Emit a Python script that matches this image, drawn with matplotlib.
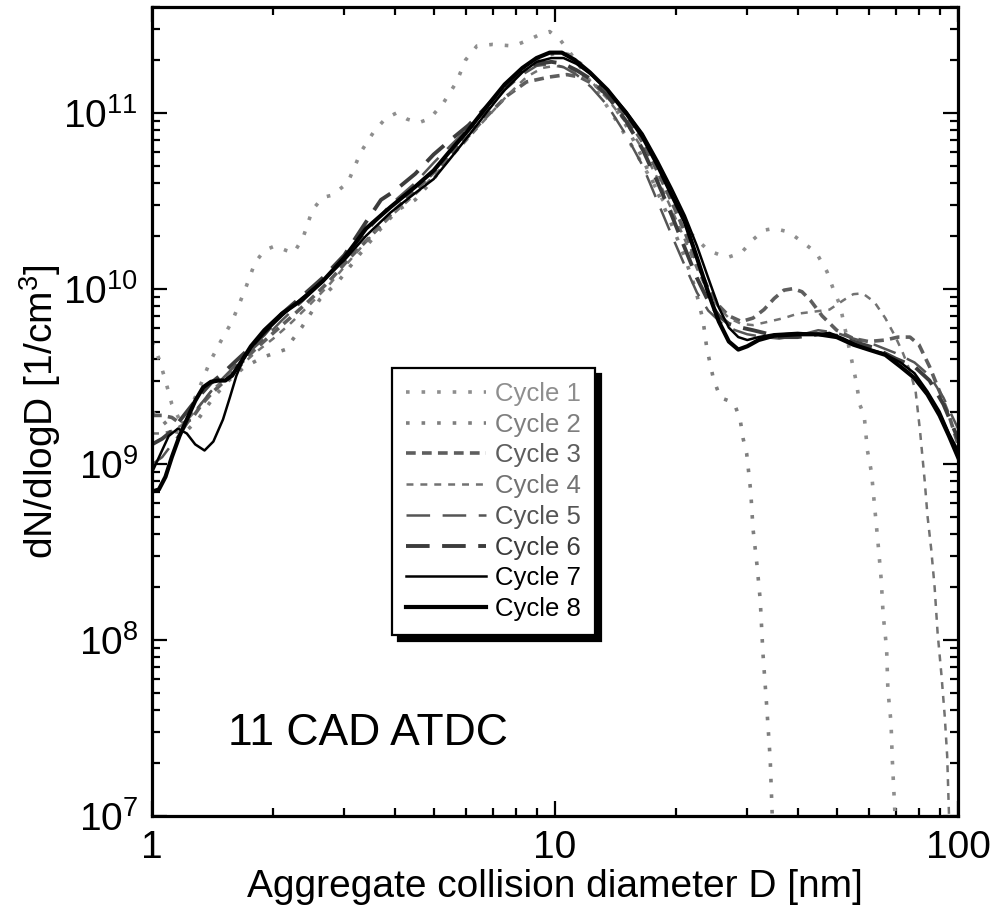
import matplotlib
matplotlib.use("Agg")
import matplotlib.pyplot as plt
import numpy as np

plt.rcParams['font.family'] = ['Liberation Sans', 'DejaVu Sans']
plt.rcParams['mathtext.fontset'] = 'custom'
plt.rcParams['mathtext.rm'] = 'Liberation Sans'
plt.rcParams['mathtext.it'] = 'Liberation Sans:italic'
plt.rcParams['mathtext.bf'] = 'Liberation Sans:bold'
plt.rcParams['lines.scale_dashes'] = False

# ---------------- data ----------------
labels = ["Cycle 1", "Cycle 2", "Cycle 3", "Cycle 4",
          "Cycle 5", "Cycle 6", "Cycle 7", "Cycle 8"]

d1 = [1.0, 1.04, 1.08, 1.12, 1.17, 1.22, 1.3, 1.39, 1.48, 1.58, 1.7, 1.8, 1.9, 2.02, 2.15,
      2.25, 2.37, 2.5, 2.65, 2.8, 3.06, 3.3, 3.55, 3.8, 4.05, 4.3, 4.6, 4.9, 5.3, 5.7, 6.0,
      6.4, 7.0, 7.9, 8.6, 9.2, 9.7, 10.3, 10.9, 11.8, 12.8, 14, 15.5, 17, 18.5, 20, 22, 24,
      26.7, 29, 31, 33, 35, 38, 41, 44.5, 47.3, 49, 51, 54.5, 56, 57, 58.5, 59.6, 61, 62,
      63.3, 64.5, 65.2, 66.5, 67, 68.2, 68.7, 69.8]
v1 = [5.0e9, 4.0e9, 3.0e9, 2.2e9, 1.8e9, 1.9e9, 2.6e9, 3.8e9, 5.0e9, 6.5e9, 9.8e9, 1.4e10,
      1.65e10, 1.75e10, 1.65e10, 1.6e10, 1.95e10, 2.8e10, 3.3e10, 3.4e10, 4.0e10, 6.0e10,
      7.8e10, 9.3e10, 1.0e11, 9.2e10, 8.8e10, 9.3e10, 1.15e11, 1.5e11, 2.0e11, 2.4e11,
      2.45e11, 2.4e11, 2.6e11, 2.8e11, 2.9e11, 2.6e11, 2.2e11, 1.7e11, 1.3e11, 9.5e10,
      6.5e10, 4.5e10, 3.2e10, 2.5e10, 2.0e10, 1.65e10, 1.5e10, 1.6e10, 1.9e10, 2.15e10,
      2.2e10, 2.1e10, 1.85e10, 1.6e10, 1.25e10, 1.0e10, 8.0e9, 3.9e9, 2.9e9, 2.2e9, 1.9e9,
      1.2e9, 9e8, 6e8, 3.6e8, 2.2e8, 1.4e8, 9e7, 5.2e7, 3.4e7, 2.1e7, 1e7]

d2 = [1.0, 1.06, 1.12, 1.2, 1.3, 1.42, 1.55, 1.7, 1.9, 2.14, 2.35, 2.61, 2.9, 3.3, 3.7, 4.07,
      4.5, 5.0, 5.6, 6.3, 7.0, 7.8, 8.6, 9.4, 10.2, 10.8, 11.6, 12.5, 13.5, 15, 16.5, 18, 19.5,
      21, 22.3, 23.3, 23.8, 24.7, 25.7, 27, 27.9, 28.8, 29.3, 29.9, 30.6, 31, 31.7, 32.3, 32.8,
      33.5, 34.2, 34.6]
v2 = [2.0e9, 1.8e9, 1.55e9, 1.5e9, 1.8e9, 2.4e9, 3.0e9, 3.6e9, 4.1e9, 4.5e9, 6.0e9, 8.7e9,
      1.1e10, 1.6e10, 2.2e10, 2.8e10, 3.2e10, 4.2e10, 6.0e10, 8.5e10, 1.15e11, 1.5e11,
      1.85e11, 2.1e11, 2.2e11, 2.15e11, 1.9e11, 1.6e11, 1.25e11, 8.5e10, 5.5e10, 3.5e10,
      2.3e10, 1.5e10, 1.0e10, 6.6e9, 4.6e9, 3.1e9, 2.4e9, 2.3e9, 2.2e9, 1.8e9, 1.4e9, 1.15e9,
      7e8, 4.3e8, 2.7e8, 1.7e8, 8.5e7, 4.3e7, 2.1e7, 1.0e7]

d3 = [1.0, 1.06, 1.12, 1.18, 1.25, 1.33, 1.42, 1.52, 1.65, 1.8, 2.0, 2.2, 2.45, 2.75, 3.1, 3.5,
      4.0, 4.6, 5.2, 5.9, 6.6, 7.6, 8.5, 9.7, 10.7, 11.5, 12.5, 13.5, 15, 16.5, 18, 19.5, 21,
      22.5, 24, 25.5, 27, 29, 31, 33, 35, 37, 39, 41, 43, 46, 50, 55, 60, 66, 71, 76, 80, 85,
      90, 95, 100]
v3 = [1.9e9, 1.9e9, 1.85e9, 1.7e9, 1.8e9, 2.2e9, 2.6e9, 3.0e9, 3.7e9, 4.5e9, 5.6e9, 6.8e9,
      8.5e9, 1.1e10, 1.5e10, 2.0e10, 2.8e10, 3.8e10, 5.0e10, 6.8e10, 9.0e10, 1.25e11, 1.5e11,
      1.6e11, 1.65e11, 1.6e11, 1.45e11, 1.25e11, 9.5e10, 6.8e10, 4.6e10, 3.1e10, 2.1e10,
      1.4e10, 1.0e10, 8.0e9, 7.0e9, 6.5e9, 6.8e9, 7.6e9, 8.8e9, 9.8e9, 1.0e10, 9.6e9, 8.6e9,
      7.0e9, 5.8e9, 5.2e9, 5.0e9, 5.1e9, 5.3e9, 5.3e9, 4.8e9, 3.6e9, 2.6e9, 1.9e9, 1.3e9]

d4 = [1.0, 1.06, 1.12, 1.2, 1.3, 1.4, 1.52, 1.65, 1.8, 2.0, 2.2, 2.45, 2.75, 3.1, 3.5, 4.0, 4.6,
      5.2, 5.9, 6.6, 7.6, 8.5, 9.3, 10.0, 10.8, 11.6, 12.5, 13.5, 15, 16.5, 18, 19.5, 21, 22.5,
      24, 25.5, 27, 29, 31, 34, 37, 40, 44, 48, 52, 55, 58, 62, 66, 70, 73, 76, 78.5, 80.5,
      82.7, 84, 85.8, 87.5, 89, 91, 92.7, 94, 95]
v4 = [1.5e9, 1.5e9, 1.55e9, 1.7e9, 2.1e9, 2.6e9, 3.1e9, 3.6e9, 4.3e9, 5.2e9, 6.3e9, 8.0e9,
      1.05e10, 1.45e10, 2.0e10, 2.7e10, 3.6e10, 4.8e10, 6.6e10, 8.8e10, 1.25e11, 1.6e11,
      1.8e11, 1.85e11, 1.8e11, 1.65e11, 1.45e11, 1.2e11, 8.8e10, 6.2e10, 4.2e10, 2.8e10,
      1.9e10, 1.3e10, 9.5e9, 7.8e9, 6.8e9, 6.3e9, 6.2e9, 6.5e9, 6.8e9, 7.2e9, 7.4e9, 7.6e9,
      8.6e9, 9.3e9, 9.4e9, 8.4e9, 6.8e9, 5.3e9, 4.3e9, 3.4e9, 2.6e9, 1.55e9, 8e8, 5.1e8,
      3.3e8, 2.0e8, 1.1e8, 6.3e7, 3.7e7, 2.2e7, 1.0e7]

d5 = [1.0, 1.06, 1.12, 1.2, 1.3, 1.4, 1.5, 1.6, 1.75, 1.9, 2.1, 2.35, 2.65, 3.0, 3.4, 3.9, 4.5,
      5.0, 5.5, 6.1, 6.8, 7.5, 8.3, 9.0, 9.8, 10.5, 11.3, 12.3, 13.5, 15, 16.5, 18, 19.5, 21,
      22.5, 24, 26, 28, 30, 33, 36, 40, 45, 50, 55, 62, 70, 78, 85, 92, 100]
v5 = [1.0e9, 1.1e9, 1.3e9, 1.6e9, 2.1e9, 2.6e9, 3.1e9, 3.6e9, 4.4e9, 5.2e9, 6.6e9, 8.4e9,
      1.1e10, 1.5e10, 2.1e10, 3.0e10, 4.0e10, 5.2e10, 6.5e10, 8.2e10, 1.05e11, 1.35e11,
      1.65e11, 1.85e11, 1.9e11, 1.82e11, 1.65e11, 1.4e11, 1.1e11, 7.5e10, 5.0e10, 3.1e10,
      2.0e10, 1.35e10, 9.5e9, 7.5e9, 6.3e9, 5.8e9, 5.5e9, 5.3e9, 5.2e9, 5.4e9, 5.8e9, 5.6e9,
      5.2e9, 4.8e9, 4.3e9, 3.8e9, 3.2e9, 2.4e9, 1.6e9]

d6 = [1.0, 1.06, 1.12, 1.2, 1.3, 1.4, 1.5, 1.6, 1.75, 1.9, 2.1, 2.35, 2.65, 3.0, 3.4, 3.7, 4.0,
      4.5, 5.0, 5.5, 6.1, 6.8, 7.5, 8.3, 9.0, 9.8, 10.5, 11.3, 12.3, 13.5, 15, 16.5, 18, 19.5,
      21, 22.5, 24, 25.5, 27, 29, 31, 33, 36, 40, 45, 50, 55, 62, 70, 78, 85, 92, 100]
v6 = [1.3e9, 1.4e9, 1.55e9, 1.9e9, 2.4e9, 2.9e9, 3.3e9, 3.8e9, 4.6e9, 5.5e9, 7.2e9, 9.0e9,
      1.15e10, 1.55e10, 2.4e10, 3.2e10, 3.6e10, 4.5e10, 5.8e10, 7.0e10, 8.5e10, 1.1e11,
      1.4e11, 1.75e11, 1.9e11, 1.95e11, 1.9e11, 1.75e11, 1.55e11, 1.25e11, 9.0e10, 6.2e10,
      4.0e10, 2.6e10, 1.7e10, 1.15e10, 8.5e9, 7.0e9, 6.3e9, 6.0e9, 5.8e9, 5.6e9, 5.3e9,
      5.3e9, 5.5e9, 5.4e9, 5.0e9, 4.6e9, 4.0e9, 3.6e9, 3.0e9, 2.2e9, 1.4e9]

d7 = [1.0, 1.05, 1.1, 1.16, 1.22, 1.28, 1.35, 1.42, 1.5, 1.56, 1.62, 1.68, 1.76, 1.9, 2.1, 2.35,
      2.65, 3.0, 3.4, 3.9, 4.5, 5.0, 5.5, 6.1, 6.8, 7.5, 8.3, 9.0, 9.8, 10.5, 11.3, 12.3, 13.5,
      15, 16.5, 18, 19.5, 21, 22.5, 24, 25.5, 27, 28.5, 30, 32, 35, 40, 45, 48, 52, 58, 65, 72,
      78, 84, 90, 95, 100]
v7 = [9.0e8, 1.15e9, 1.45e9, 1.6e9, 1.5e9, 1.3e9, 1.2e9, 1.35e9, 1.8e9, 2.4e9, 3.2e9, 3.9e9,
      4.6e9, 5.6e9, 7.0e9, 8.8e9, 1.1e10, 1.45e10, 2.0e10, 2.7e10, 3.5e10, 4.2e10, 5.5e10,
      7.4e10, 1.02e11, 1.35e11, 1.7e11, 1.95e11, 2.05e11, 2.05e11, 1.9e11, 1.65e11, 1.35e11,
      1.02e11, 7.6e10, 5.3e10, 3.7e10, 2.6e10, 1.75e10, 1.15e10, 7.8e9, 6.0e9, 5.3e9, 5.1e9,
      5.3e9, 5.5e9, 5.6e9, 5.5e9, 5.6e9, 5.2e9, 4.6e9, 4.3e9, 3.8e9, 3.3e9, 2.6e9, 2.0e9,
      1.5e9, 1.2e9]

d8 = [1.0, 1.04, 1.08, 1.12, 1.17, 1.22, 1.28, 1.34, 1.4, 1.46, 1.52, 1.58, 1.66, 1.76, 1.9,
      2.1, 2.35, 2.65, 3.0, 3.4, 3.9, 4.5, 5.0, 5.5, 6.1, 6.8, 7.5, 8.3, 9.0, 9.7, 10.4, 11.2,
      12.2, 13.5, 15, 16.5, 18, 19.5, 21, 22.5, 24, 25.5, 27, 28.5, 30, 32, 35, 40, 45, 50, 55,
      60, 66, 72, 78, 84, 90, 95, 100]
v8 = [7.0e8, 7.2e8, 8.5e8, 1.1e9, 1.45e9, 1.8e9, 2.3e9, 2.75e9, 2.95e9, 3.0e9, 3.0e9, 3.2e9,
      3.8e9, 4.7e9, 5.8e9, 7.2e9, 8.6e9, 1.1e10, 1.5e10, 2.2e10, 2.9e10, 3.8e10, 4.7e10,
      6.1e10, 8.0e10, 1.1e11, 1.45e11, 1.8e11, 2.05e11, 2.2e11, 2.2e11, 2.0e11, 1.7e11,
      1.35e11, 1.0e11, 7.3e10, 5.0e10, 3.4e10, 2.4e10, 1.5e10, 9.5e9, 6.5e9, 5.0e9, 4.5e9,
      4.7e9, 5.1e9, 5.4e9, 5.5e9, 5.5e9, 5.3e9, 4.8e9, 4.5e9, 4.2e9, 3.6e9, 3.1e9, 2.5e9,
      1.9e9, 1.45e9, 1.1e9]

x_ticks = [1, 10, 100]
x_tick_labels = ["1", "10", "100"]
y_ticks = [1e7, 1e8, 1e9, 1e10, 1e11]
y_tick_labels = [r"$\mathregular{10^{7}}$", r"$\mathregular{10^{8}}$", r"$\mathregular{10^{9}}$",
                 r"$\mathregular{10^{10}}$", r"$\mathregular{10^{11}}$"]

series = [(d1, v1), (d2, v2), (d3, v3), (d4, v4), (d5, v5), (d6, v6), (d7, v7), (d8, v8)]

styles = [
    dict(color="#8e8e8e", lw=2.6, dashes=(2.6, 8.6), dash_capstyle="butt"),
    dict(color="#7e7e7e", lw=2.6, dashes=(2.6, 8.6), dash_capstyle="butt"),
    dict(color="#5e5e5e", lw=2.6, dashes=(7.0, 4.5)),
    dict(color="#727272", lw=1.8, dashes=(5.0, 5.0)),
    dict(color="#555555", lw=1.8, dashes=(17.0, 9.0)),
    dict(color="#3c3c3c", lw=2.8, dashes=(17.0, 9.0)),
    dict(color="#000000", lw=1.8, linestyle="-"),
    dict(color="#000000", lw=3.0, linestyle="-"),
]

# ---------------- figure ----------------
fig = plt.figure(figsize=(9.96, 9.13), dpi=100)
ax = fig.add_axes([152/996, 1 - 816/913, (958-152)/996, (816-7)/913])

for (d, v), lab, st in zip(series, labels, styles):
    ax.plot(d, v, label=lab, **st)

ax.set_xscale("log")
ax.set_yscale("log")
ax.set_xlim(1, 100)
ax.set_ylim(1e7, 4e11)

ax.set_xticks(x_ticks)
ax.set_xticklabels(x_tick_labels)
ax.set_yticks(y_ticks)
ax.set_yticklabels(y_tick_labels)

ax.tick_params(which="both", direction="in", top=True, right=True, labelsize=28, width=1.6)
ax.tick_params(which="major", length=11, pad=10)
ax.tick_params(which="minor", length=6)
for s in ax.spines.values():
    s.set_linewidth(2.3)

ax.set_xlabel("Aggregate collision diameter D [nm]", fontsize=28, labelpad=2)
ax.set_ylabel(r"dN/dlogD [1/cm$^\mathregular{3}$]", fontsize=28, labelpad=0)

ax.text(228/996, 1 - 745/913, "11 CAD ATDC", transform=fig.transFigure,
        fontsize=32, ha="left", va="baseline")

leg = ax.legend(loc="upper left", bbox_to_anchor=(392/996, 1 - 368/913),
                bbox_transform=fig.transFigure, fontsize=18.5, frameon=True, fancybox=False,
                labelspacing=0.26, handlelength=3.1, handletextpad=0.35, borderpad=0.55,
                borderaxespad=0, labelcolor="linecolor",
                shadow={"ox": 4.5, "oy": -4.5, "facecolor": "black", "edgecolor": "black",
                        "alpha": 1})
leg.get_frame().set_edgecolor("black")
leg.get_frame().set_linewidth(1.6)

fig.savefig("out.png", dpi=100)
